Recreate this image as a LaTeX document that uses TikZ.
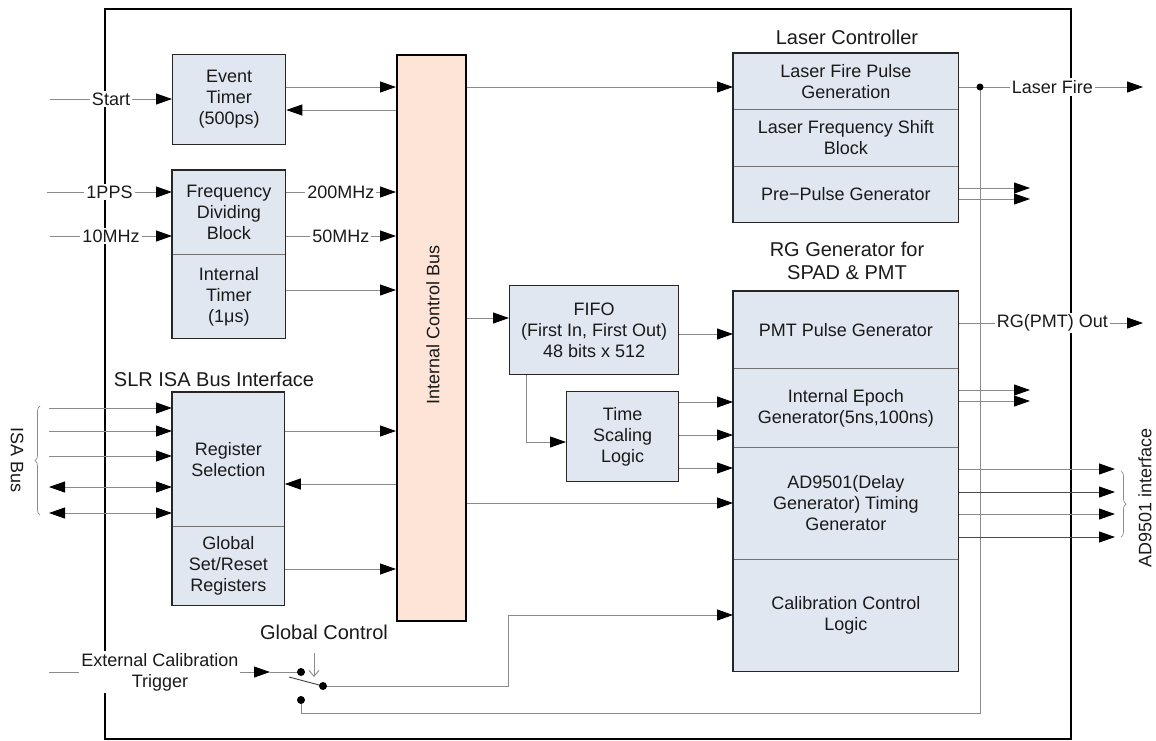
\documentclass[tikz,border=0pt]{standalone}
\usepackage{fontspec}
\setmainfont{Liberation Sans}
\usetikzlibrary{arrows.meta,decorations.pathreplacing}

\definecolor{boxfill}{HTML}{E1E7F1}
\definecolor{busfill}{HTML}{FDE4D6}
\definecolor{wire}{HTML}{8A8A8A}
\definecolor{ink}{HTML}{1A1A1A}

\tikzset{
  txt/.style={font=\fontsize{18}{21}\selectfont, text=ink},
  part/.style={txt, draw=black!55, line width=0.8pt, fill=boxfill, align=center,
    inner sep=0pt, anchor=north west},
  solo/.style={part, draw=black!85, line width=1.3pt},
  rim/.style={draw=black!85, line width=1.3pt},
  wireline/.style={draw=wire, line width=0.9pt},
  tipshape/.style={},
  sig/.style={wireline, -{Triangle[length=16pt,width=11pt,color=black]}},
  bisig/.style={wireline, {Triangle[length=16pt,width=11pt,color=black]}-{Triangle[length=16pt,width=11pt,color=black]}},
  lbl/.style={txt, fill=white, inner sep=2pt, align=center},
  heading/.style={font=\fontsize{20}{23}\selectfont, text=ink, align=center},
  dot/.style={fill=black},
  brace/.style={draw=wire, line width=0.7pt, decorate, decoration={brace, amplitude=5pt}}
}

\begin{document}
\begin{tikzpicture}[x=1pt, y=-1pt]
\useasboundingbox (0,0) rectangle (1156,740);

% board outline
\draw[line width=2pt, black] (105,9) rectangle (1071,739);

% ---- left column ----
\node[solo, minimum width=113, minimum height=90] (ev) at (172,54) {Event\\Timer\\(500ps)};

\node[part, minimum width=113, minimum height=84] (fr) at (172,170) {Frequency\\Dividing\\Block};
\node[part, minimum width=113, minimum height=84] (it) at (172,254) {Internal\\Timer\\(1μs)};
\draw[rim] (fr.north west) rectangle (it.south east);

\node[heading] (isahead) at (214,379) {SLR ISA Bus Interface};
\node[part, minimum width=112, minimum height=134] (reg) at (172,392) {Register\\Selection};
\node[part, minimum width=112, minimum height=79] (gsr) at (172,526) {Global\\Set/Reset\\Registers};
\draw[rim] (reg.north west) rectangle (gsr.south east);

% ---- internal control bus ----
\node[draw=black, line width=2pt, fill=busfill, anchor=north west, inner sep=0pt,
      minimum width=69, minimum height=566] (bus) at (396,54) {};
\node[txt, rotate=90] (buslbl) at (433,325) {Internal Control Bus};

% ---- middle column ----
\node[solo, minimum width=169, minimum height=89] (fifo) at (509,285) {FIFO\\(First In, First Out)\\48 bits x 512};
\node[solo, minimum width=112, minimum height=90] (ts) at (566,391) {Time\\Scaling\\Logic};

% ---- laser controller ----
\node[heading] (lchead) at (847,37) {Laser Controller};
\node[part, minimum width=225, minimum height=56] (lf) at (733,53) {Laser Fire Pulse\\Generation};
\node[part, minimum width=225, minimum height=57] (ls) at (733,109) {Laser Frequency Shift\\Block};
\node[part, minimum width=225, minimum height=56] (lp) at (733,166) {Pre−Pulse Generator};
\draw[rim] (lf.north west) rectangle (lp.south east);

% ---- range gate generator ----
\node[heading] (rghead) at (847,261) {RG Generator for\\SPAD \& PMT};
\node[part, minimum width=225, minimum height=77] (pmt) at (733,291) {PMT Pulse Generator};
\node[part, minimum width=225, minimum height=79] (ep) at (733,368) {Internal Epoch\\Generator(5ns,100ns)};
\node[part, minimum width=225, minimum height=112] (ad) at (733,447) {AD9501(Delay\\Generator) Timing\\Generator};
\node[part, minimum width=225, minimum height=112] (cal) at (733,559) {Calibration Control\\Logic};
\draw[rim] (pmt.north west) rectangle (cal.south east);

% ---- switch and junction points ----
\coordinate (upc) at (301,672);
\coordinate (pivot) at (323,686);
\coordinate (lowc) at (301,700);
\coordinate (jn) at (980,87);
\coordinate (bladeend) at (289,677);
\coordinate (startin) at (50,99);
\coordinate (ppsin) at (47,192);
\coordinate (tenin) at (50,236);
\coordinate (trigin) at (49,672);
\coordinate (trigtip) at (270,672);
\coordinate (fire) at (1143,87);
\coordinate (rgout) at (1143,323);

% long return from the lower contact to the laser-fire junction
\draw[wireline] (lowc) -- (lowc |- 0,713) -- (jn |- 0,713) -- (jn);

% inputs on the left
\draw[sig] (startin) -- node[lbl, pos=0.5] {Start} (ev.west |- startin);
\draw[sig] (ppsin) -- node[lbl, pos=0.5] {1PPS} (fr.west |- ppsin);
\draw[sig] (tenin) -- node[lbl, pos=0.5] {10MHz} (fr.west |- tenin);

% timers to bus
\draw[sig] (ev.east |- 0,87) -- (bus.west |- 0,87);
\draw[sig] (bus.west |- 0,110) -- (ev.east |- 0,110);
\draw[sig] (fr.east |- 0,192) -- node[lbl, pos=0.5] {200MHz} (bus.west |- 0,192);
\draw[sig] (fr.east |- 0,236) -- node[lbl, pos=0.5] {50MHz} (bus.west |- 0,236);
\draw[sig] (it.east |- 0,290) -- (bus.west |- 0,290);

% ISA bus lines
\draw[sig] (49,408) -- (reg.west |- 0,408);
\draw[sig] (49,431) -- (reg.west |- 0,431);
\draw[sig] (49,456) -- (reg.west |- 0,456);
\draw[bisig] (49,487) -- (reg.west |- 0,487);
\draw[bisig] (49,513) -- (reg.west |- 0,513);
\draw[brace] (40,515) -- (40,406);
\node[txt, rotate=-90] (isalbl) at (17,460) {ISA Bus};

% registers and bus
\draw[sig] (reg.east |- 0,431) -- (bus.west |- 0,431);
\draw[sig] (bus.west |- 0,484) -- (reg.east |- 0,484);
\draw[sig] (gsr.east |- 0,569) -- (bus.west |- 0,569);

% bus to the right-hand blocks
\draw[sig] (bus.east |- 0,87) -- (lf.west |- 0,87);
\draw[sig] (bus.east |- 0,318) -- (fifo.west |- 0,318);
\draw[sig] (bus.east |- 0,503) -- (ad.west |- 0,503);
\draw[sig] (fifo.east |- 0,334) -- (pmt.west |- 0,334);
\draw[sig] (526,0 |- fifo.south) |- (ts.west |- 0,442);
\draw[sig] (ts.east |- 0,402) -- (ep.west |- 0,402);
\draw[sig] (ts.east |- 0,435) -- (ep.west |- 0,435);
\draw[sig] (ts.east |- 0,468) -- (ad.west |- 0,468);

% outputs on the right
\draw[sig] (lf.east |- jn) -- node[lbl, pos=0.508] {Laser Fire} (fire);
\fill[dot] (jn) circle (3.5);
\draw[sig] (lp.east |- 0,188) -- (1030,188);
\draw[sig] (lp.east |- 0,199) -- (1030,199);
\draw[sig] (pmt.east |- rgout) -- node[lbl, pos=0.508] {RG(PMT) Out} (rgout);
\draw[sig] (ep.east |- 0,390) -- (1030,390);
\draw[sig] (ep.east |- 0,401) -- (1030,401);
\draw[sig] (ad.east |- 0,469) -- (1115,469);
\draw[sig, draw=black!70] (ad.east |- 0,492) -- (1115,492);
\draw[sig] (ad.east |- 0,514) -- (1115,514);
\draw[sig, draw=black!70] (ad.east |- 0,537) -- (1115,537);
\draw[brace] (1121,471) -- (1121,537);
\node[txt, rotate=90] (adlbl) at (1145,498) {AD9501 interface};

% calibration trigger and global control switch
\draw[sig] (trigin) -- node[lbl, pos=0.502] {External Calibration\\Trigger} (trigtip);
\draw[wireline] (trigtip) -- (upc);
\node[heading] (gchead) at (324,632) {Global Control};
\draw[wireline, draw=black!75] (bladeend) -- (pivot);
\draw[wireline, -{Straight Barb[length=6pt,width=10pt]}] (314,653) -- (314,677);
\draw[sig] (pivot) -- (508,0 |- pivot) |- (cal.west |- 0,615);
\fill[dot] (upc) circle (4);
\fill[dot] (pivot) circle (4);
\fill[dot] (lowc) circle (4);
\end{tikzpicture}
\end{document}
